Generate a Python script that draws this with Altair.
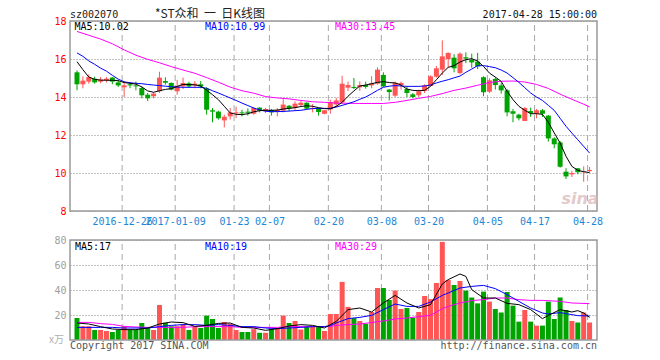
import altair as alt
import pandas as pd

# ---------------- data ----------------
opens = [15.30,14.67,14.81,14.96,14.81,14.89,15.02,14.77,14.51,14.67,
         14.61,14.47,14.12,14.04,14.30,14.84,14.74,14.30,14.56,14.72,
         14.60,14.67,14.44,13.30,13.23,12.77,12.98,13.14,13.19,13.23,
         13.12,13.44,13.28,13.32,13.23,13.28,13.54,13.42,13.58,13.70,
         13.37,13.39,13.12,13.35,13.61,13.72,14.49,14.53,14.51,14.63,
         14.61,14.70,15.16,14.39,14.07,14.63,14.42,14.14,14.09,14.32,
         14.58,15.07,15.44,16.00,16.07,15.26,16.09,15.96,15.86,15.04,
         14.28,14.95,14.61,14.35,13.25,13.07,12.74,13.26,13.12,13.30,
         13.02,11.82,11.61,10.07,9.93,10.25,10.04,10.10]
highs = [15.40,15.09,15.19,15.07,15.05,15.05,15.05,14.91,14.81,14.77,
         14.81,14.56,14.21,14.25,15.33,15.04,14.77,14.89,15.02,14.81,
         14.84,14.84,14.51,13.42,13.28,13.07,13.42,13.49,13.33,13.40,
         13.46,13.46,13.42,13.37,13.42,13.89,13.58,13.77,13.81,13.72,
         13.63,13.42,13.32,13.86,13.96,15.12,14.81,15.00,14.82,14.81,
         15.09,15.56,15.30,14.42,14.81,14.81,14.56,14.21,14.39,14.67,
         15.14,15.63,16.98,16.35,16.25,16.35,16.35,16.28,16.32,15.09,
         14.98,15.04,14.74,14.42,13.37,13.12,13.47,13.44,13.37,13.37,
         13.05,11.88,11.68,10.25,10.11,10.26,10.35,10.32]
lows = [14.35,14.46,14.70,14.70,14.72,14.77,14.67,14.53,14.00,14.46,
        14.35,13.93,13.79,13.93,14.21,14.65,14.35,14.12,14.42,14.49,
        14.46,14.46,13.07,12.67,12.81,12.40,12.81,12.89,12.98,13.02,
        13.07,13.19,13.16,13.02,12.98,13.19,13.25,13.30,13.51,13.33,
        13.19,13.02,13.09,13.12,13.47,13.68,14.32,14.42,14.32,14.44,
        14.46,14.65,14.53,13.82,14.00,14.39,14.00,13.93,14.00,14.21,
        14.56,15.02,15.16,15.54,15.30,15.19,15.79,15.54,15.47,14.04,
        14.21,14.39,14.18,12.98,12.67,12.77,12.74,12.95,12.88,12.95,
        11.65,11.30,10.28,9.68,9.79,9.93,9.54,10.04]
closes = [14.67,14.86,15.05,14.77,14.91,14.96,14.81,14.61,14.61,14.61,
          14.56,14.09,13.93,14.18,15.02,14.75,14.39,14.58,14.74,14.56,
          14.70,14.56,13.33,13.23,12.88,12.96,13.19,13.19,13.14,13.17,
          13.42,13.28,13.37,13.19,13.32,13.60,13.40,13.65,13.70,13.39,
          13.42,13.21,13.30,13.74,13.82,14.70,14.63,14.47,14.63,14.53,
          14.72,15.44,14.56,14.26,14.75,14.74,14.21,14.00,14.30,14.61,
          15.09,15.51,16.14,16.32,15.51,16.28,16.02,15.82,15.61,14.25,
          14.88,14.63,14.35,13.19,13.12,12.88,13.42,13.16,13.30,13.12,
          11.82,11.51,10.33,9.82,10.00,10.04,10.08,10.16]
volumes = [17.6,11.0,11.0,8.0,8.0,7.2,6.4,8.0,11.0,8.0,
           8.0,13.6,9.6,8.0,28.0,13.8,11.0,11.0,12.8,8.0,
           10.5,9.6,19.5,16.8,9.6,14.4,13.0,8.0,6.4,6.4,
           8.7,5.8,5.8,8.7,9.6,19.5,13.6,15.2,8.4,10.8,
           10.8,10.8,7.2,20.8,20.8,46.5,26.5,17.5,15.2,13.0,
           22.4,41.6,41.6,32.0,39.5,24.8,25.6,18.0,22.4,35.2,
           32.7,45.6,78.5,48.0,44.0,47.2,39.5,34.0,29.3,38.7,
           30.7,24.8,22.0,38.4,27.5,14.7,24.0,14.7,11.5,11.5,
           30.7,16.8,34.0,24.0,15.2,14.0,22.0,14.0]

# moving-average lines as drawn in the picture
p_ma5 = [15.86,15.44,15.05,14.93,14.89,14.88,14.88,14.86,14.76,14.72,
         14.68,14.53,14.32,14.25,14.33,14.40,14.44,14.56,14.66,14.66,
         14.64,14.58,14.36,14.12,13.86,13.51,13.16,13.09,13.07,13.12,
         13.22,13.28,13.30,13.30,13.31,13.37,13.40,13.44,13.50,13.54,
         13.51,13.44,13.39,13.38,13.51,13.72,14.04,14.32,14.58,14.63,
         14.70,14.77,14.81,14.76,14.74,14.63,14.42,14.35,14.33,14.35,
         14.56,14.91,15.26,15.56,15.65,15.84,15.96,16.02,15.89,15.61,
         15.26,15.05,14.82,14.30,13.86,13.51,13.30,13.12,13.12,13.09,
         12.67,12.11,11.58,10.88,10.35,10.14,10.07,10.02]
p_ma10 = [16.32,16.14,15.90,15.72,15.52,15.36,15.14,14.94,14.80,14.75,
          14.72,14.70,14.66,14.63,14.60,14.57,14.54,14.52,14.51,14.51,
          14.51,14.51,14.46,14.33,14.21,14.08,13.95,13.82,13.68,13.55,
          13.42,13.32,13.25,13.23,13.23,13.24,13.26,13.28,13.30,13.35,
          13.39,13.40,13.40,13.40,13.47,13.56,13.65,13.75,13.88,14.00,
          14.17,14.35,14.51,14.57,14.60,14.58,14.56,14.56,14.56,14.58,
          14.63,14.74,14.83,14.91,15.01,15.10,15.30,15.47,15.65,15.65,
          15.60,15.54,15.42,15.26,15.02,14.77,14.49,14.21,14.00,13.82,
          13.56,13.30,12.88,12.46,12.10,11.75,11.40,11.05]
p_ma30_idx = [0,2,4,6,8,10,12,14,16,18,20,22,24,26,28,30,32,34,36,38,40,42,44,46,
              48,50,52,54,56,58,60,62,64,66,68,70,72,74,76,78,80,82,84,86,87]
p_ma30 = [17.45,17.25,17.05,16.80,16.48,16.20,15.98,15.80,15.60,15.42,15.25,15.02,
          14.78,14.52,14.33,14.20,14.02,13.95,13.90,13.82,13.75,13.72,13.68,13.67,
          13.66,13.66,13.66,13.72,13.82,13.93,14.03,14.18,14.35,14.47,14.62,14.76,
          14.83,14.84,14.79,14.66,14.45,14.15,13.88,13.62,13.48]

v_ma5_idx = [0,2,4,6,8,10,12,14,16,18,20,22,24,26,28,30,32,34,36,38,40,42,43,44,
             46,48,50,52,54,56,58,60,62,63,65,66,67,69,71,73,75,77,79,80,82,84,85,86,87]
v_ma5 = [13.6,12.8,10.7,8.8,8.3,8.3,9.6,12.8,14.4,13.9,10.9,11.7,13.3,13.6,10.1,
         9.6,7.7,9.1,11.2,12.3,11.7,9.6,12.3,14.9,24.3,25.6,22.4,29.6,35.7,29.6,
         25.6,28.3,44.8,48.3,52.8,50.9,40.3,33.6,33.6,29.3,28.3,24.3,17.1,19.7,
         24.3,22.4,23.5,21.6,18.1]
v_ma10_idx = [0,4,6,8,12,14,16,18,20,22,24,26,28,30,32,34,36,38,40,42,43,44,46,48,
              50,52,54,56,58,60,62,63,65,67,69,71,73,75,77,79,80,82,84,85,87]
v_ma10 = [10.1,10.1,10.1,9.6,9.6,10.7,11.7,12.3,12.3,11.7,12.3,11.7,10.7,10.7,9.6,
          9.1,9.6,10.1,10.7,10.7,11.5,13.6,17.1,18.1,19.7,24.3,28.8,26.9,26.9,30.4,
          35.7,37.6,41.6,42.9,43.7,41.1,36.3,30.9,25.6,21.6,20.8,21.9,20.3,19.5,19.2]
v_ma30_idx = [0,2,4,6,8,10,12,18,20,26,28,34,36,40,43,44,46,48,50,52,54,56,58,60,
              62,63,65,67,69,71,73,75,77,79,82,84,87]
v_ma30 = [14.1,14.1,13.1,12.5,10.9,10.4,10.1,10.1,10.7,10.7,10.1,10.1,10.7,10.7,
          10.9,11.7,12.3,12.8,14.0,15.2,16.8,17.6,18.7,19.7,25.1,26.9,29.6,31.5,
          32.3,33.6,33.6,32.3,31.7,31.7,30.9,29.6,29.1]

tick_idx = [8, 17, 27, 33, 43, 52, 60, 70, 78, 87]
tick_labels = ['2016-12-26', '2017-01-09', '01-23', '02-07', '02-20',
               '03-08', '03-20', '04-05', '04-17', '04-28']
price_ticks = [8, 10, 12, 14, 16, 18]
vol_ticks = [20, 40, 60, 80]

# ---------------- styling ----------------
W, H = 527, 319
RED = '#ff5555'
GREEN = '#00a400'
GRID = '#a8a8a8'
FRAME = '#9a9a9a'
MONO = 'DejaVu Sans Mono'
CJK = 'Noto Sans CJK SC'
NB = '\u00a0'

df = pd.DataFrame({'i': list(range(len(closes))), 'o': opens, 'h': highs,
                   'l': lows, 'c': closes, 'v': volumes})
ticks_df = pd.DataFrame({'i': tick_idx})
one = pd.DataFrame({'a': [0]})

xs = alt.Scale(domain=[0, 87.75], nice=False, zero=False)
ps = alt.Scale(domain=[1.211, 18], nice=False, zero=False)
vs = alt.Scale(domain=[0, 255.2], nice=False, zero=False)

label_expr = ' : '.join(f"datum.value == {i} ? '{t}'" for i, t in zip(tick_idx, tick_labels)) + " : ''"
xaxis = alt.Axis(values=tick_idx, labelExpr=label_expr, offset=-129, grid=False,
                 ticks=False, domain=False, labelFont=MONO, labelFontSize=10,
                 labelColor='#1d87d6', labelPadding=5, labelOverlap=False,
                 labelFlush=5, title=None)
paxis = alt.Axis(values=price_ticks, orient='left', grid=True, gridDash=[1, 2],
                 gridColor='#888888', ticks=False, domain=False, labelColor='#ff0000',
                 labelFont=MONO, labelFontSize=10, labelPadding=4, title=None)
vaxis = alt.Axis(values=vol_ticks, orient='left', grid=True, gridDash=[1, 2],
                 gridColor='#888888', ticks=False, domain=False, labelColor='#a0a0a0',
                 labelFont=MONO, labelFontSize=10, labelPadding=4, title=None)


def X(f):
    return alt.X(f'{f}:Q', scale=xs, axis=xaxis)


def PY(f):
    return alt.Y(f'{f}:Q', scale=ps, axis=paxis)


def VY(f):
    return alt.Y(f'{f}:Q', scale=vs, axis=vaxis)


updown = alt.condition('datum.c >= datum.o', alt.value(RED), alt.value(GREEN))


def line_df(idx, vals):
    return pd.DataFrame({'i': idx, 'm': vals})


# ---------------- price panel ----------------
p_grid = alt.Chart(ticks_df).mark_rule(color=GRID, strokeDash=[6, 4], strokeWidth=1).encode(
    x=X('i'), y=alt.YDatum(8, type='quantitative', scale=ps, axis=paxis), y2=alt.Y2Datum(18))
wick = alt.Chart(df).mark_rule(xOffset=2, strokeWidth=1).encode(
    x=X('i'), y=PY('l'), y2='h:Q', color=updown)
body = alt.Chart(df).mark_bar(size=5, xOffset=2).encode(
    x=X('i'), y=PY('o'), y2='c:Q', color=updown)
pm5 = alt.Chart(line_df(list(range(88)), p_ma5)).mark_line(color='black', strokeWidth=1, xOffset=2).encode(x=X('i'), y=PY('m'))
pm10 = alt.Chart(line_df(list(range(88)), p_ma10)).mark_line(color='#0000ff', strokeWidth=1, xOffset=2).encode(x=X('i'), y=PY('m'))
pm30 = alt.Chart(line_df(p_ma30_idx, p_ma30)).mark_line(color='#ff00ff', strokeWidth=1, xOffset=2).encode(x=X('i'), y=PY('m'))
p_frame = alt.Chart(one).mark_rect(fillOpacity=0, stroke=FRAME, strokeWidth=1.5).encode(
    x=alt.value(0), x2=alt.value(W),
    y=alt.YDatum(8, type='quantitative', scale=ps, axis=paxis), y2=alt.Y2Datum(18))
price = alt.layer(p_grid, wick, body, pm30, pm10, pm5, p_frame)

# ---------------- volume panel ----------------
v_grid = alt.Chart(ticks_df).mark_rule(color=GRID, strokeDash=[6, 4], strokeWidth=1).encode(
    x=X('i'), y=alt.YDatum(0, type='quantitative', scale=vs, axis=vaxis), y2=alt.Y2Datum(80))
vbars = alt.Chart(df).mark_bar(size=5, xOffset=2).encode(
    x=X('i'), y=VY('v'), y2=alt.Y2Datum(0), color=updown)
vm5 = alt.Chart(line_df(v_ma5_idx, v_ma5)).mark_line(color='black', strokeWidth=1, xOffset=2).encode(x=X('i'), y=VY('m'))
vm10 = alt.Chart(line_df(v_ma10_idx, v_ma10)).mark_line(color='#0000ff', strokeWidth=1, xOffset=2).encode(x=X('i'), y=VY('m'))
vm30 = alt.Chart(line_df(v_ma30_idx, v_ma30)).mark_line(color='#ff00ff', strokeWidth=1, xOffset=2).encode(x=X('i'), y=VY('m'))
v_frame = alt.Chart(one).mark_rect(fillOpacity=0, stroke=FRAME, strokeWidth=1.5).encode(
    x=alt.value(0), x2=alt.value(W),
    y=alt.YDatum(0, type='quantitative', scale=vs, axis=vaxis), y2=alt.Y2Datum(80))
volume = alt.layer(v_grid, vbars, vm30, vm10, vm5, v_frame)


# ---------------- texts ----------------
def txt(s, x, y, align='left', color='black', font=MONO, size=10, **kw):
    return alt.Chart(pd.DataFrame({'t': [s]})).mark_text(
        align=align, baseline='alphabetic', font=font, fontSize=size, color=color, **kw
    ).encode(text='t:N', x=alt.value(x), y=alt.value(y))


title = '*ST众和' + NB * 2 + '一' + NB * 2 + '日K线图'

texts = [
    txt('sz002070', 0, -3.5, color='#222222'),
    txt(title, 140, -3.5, align='center', color='#222222', font=CJK, size=12),
    txt('2017-04-28 15:00:00', W, -3.5, align='right', color='#111111'),
    txt('MA5:10.02', 4.5, 8.5, color='black'),
    txt('MA10:10.99', 135, 8.5, color='#0000ff'),
    txt('MA30:13.45', 265, 8.5, color='#ff00ff'),
    txt('MA5:17', 5, 228.5, color='black'),
    txt('MA10:19', 135, 228.5, color='#0000ff'),
    txt('MA30:29', 265, 228.5, color='#ff00ff'),
    txt('x万', -6, 322, align='right', color='#b0b0b0', font=CJK, size=10),
    txt('Copyright 2017 SINA.COM', 0, 328, color='#555555'),
    txt('http://finance.sina.com.cn', W, 328, align='right', color='#555555'),
    txt('sina', 510, 183, align='center', color='#d8b4b4', font='DejaVu Sans', size=16,
        fontStyle='italic', fontWeight='bold', opacity=0.7),
]

chart = alt.layer(price, volume, *texts).resolve_scale(y='independent').properties(
    width=W, height=H,
    padding={'left': 70, 'top': 21, 'right': 63, 'bottom': 20},
    autosize=alt.AutoSizeParams(type='none'),
    background='white',
).configure_view(stroke='transparent')

chart.save('out.html', embed_options={'renderer': 'svg', 'actions': False})
